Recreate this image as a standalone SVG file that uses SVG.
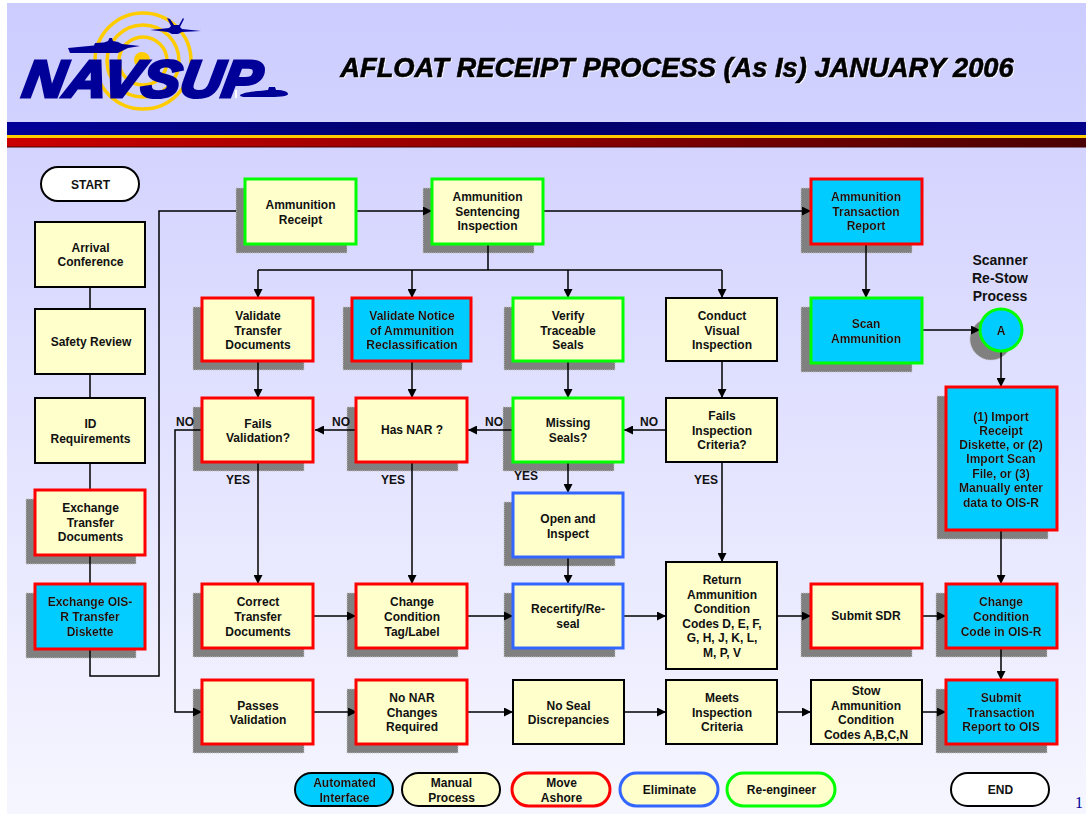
<svg xmlns="http://www.w3.org/2000/svg" width="1086" height="814" viewBox="0 0 1086 814">
<style>
text{font-family:"Liberation Sans",Arial,sans-serif;font-weight:bold;font-size:12px;fill:#111;text-anchor:middle}
.sh{fill:#808080;stroke:#c4c4c4;stroke-width:1;stroke-dasharray:1 1}
.y{fill:#ffffcc}.b{fill:#00ccff}
.b~text{filter:drop-shadow(.7px .7px 0 rgba(255,255,255,.75))}
.k{stroke:#000;stroke-width:2}.r{stroke:#ff0000;stroke-width:3}.g{stroke:#00ff00;stroke-width:3}.u{stroke:#3366ff;stroke-width:3}
.c path{fill:none;stroke:#000;stroke-width:1.5}
.a{marker-end:url(#ah)}
.big{font-size:14px}
</style>
<defs>
<linearGradient id="bg" x1="0" y1="0" x2="0" y2="1"><stop offset="0" stop-color="#ccccff"/><stop offset="1" stop-color="#f6f6ff"/></linearGradient>
<linearGradient id="bl" x1="0" y1="0" x2="1" y2="0"><stop offset="0" stop-color="#000099"/><stop offset="0.45" stop-color="#000066"/><stop offset="1" stop-color="#000088"/></linearGradient>
<linearGradient id="rd" x1="0" y1="0" x2="1" y2="0"><stop offset="0" stop-color="#cc0000"/><stop offset="1" stop-color="#4a0000"/></linearGradient>
<marker id="ah" viewBox="0 0 10 10" refX="10" refY="5" markerUnits="userSpaceOnUse" markerWidth="9" markerHeight="9" orient="auto"><path d="M0 0L10 5L0 10Z" fill="#000"/></marker>
</defs>
<rect width="1086" height="814" fill="#fff"/>
<rect x="7" y="3" width="1079" height="811" fill="url(#bg)"/>
<g id="banner">
<rect x="7" y="122" width="1079" height="13" fill="url(#bl)"/>
<rect x="7" y="135" width="1079" height="3" fill="#ffcc00"/>
<rect x="7" y="138" width="1079" height="9" fill="url(#rd)"/>
<path d="M7 147H1086" stroke="#400" stroke-width="1"/>
</g>
<g id="logo">
<g fill="none" stroke="#ffcc00" stroke-width="3.500">
<circle cx="143" cy="61" r="48"/><circle cx="143" cy="61" r="36"/><circle cx="143" cy="61" r="24"/>
</g>
<circle cx="142" cy="60" r="8" fill="#ffcc00"/>
<path d="M68 48L94 45.500L95 43L104 42.500L108 41L109.500 38L112 38L113 41L118 42L122 44L140 46L128 48L118 53H70Z" fill="#000099"/>
<path d="M150 30L169 28L171 26L167 18L170 19L174 25L179 25L183 18L184 19L180 27L182 29L201 31L182 32L178 34L172 34L168 32Z" fill="#000099"/>
<path d="M240 95C245 91 262 91 268 90L269 87L275 87L276 90C284 90 288 92 288 94C288 96 282 97 270 97H245C241 97 240 96 240 95Z" fill="#000099"/>
<path d="M236 90V98" stroke="#fff" stroke-width="2"/>
<text transform="translate(140 97) skewX(-9)" x="0" y="0" textLength="238" lengthAdjust="spacingAndGlyphs" style="font-size:52px;font-style:italic;fill:#000099;stroke:#000099;stroke-width:3.200;stroke-linejoin:miter">NAVSUP</text>
</g>
<text id="title" x="677" y="77" style="font-size:27.300px;font-style:italic;fill:#000;stroke:#000;stroke-width:.6;filter:drop-shadow(1px 1px 0 rgba(255,255,255,.85))">AFLOAT RECEIPT PROCESS (As Is) JANUARY 2006</text>

<g id="shadows">
<rect class="sh" x="26" y="499" width="110" height="65"/>
<rect class="sh" x="26" y="593" width="110" height="65"/>
<rect class="sh" x="236" y="188" width="111" height="65"/>
<rect class="sh" x="423" y="188" width="111" height="65"/>
<rect class="sh" x="801" y="188" width="111" height="65"/>
<rect class="sh" x="193" y="307" width="111" height="63"/>
<rect class="sh" x="343" y="307" width="119" height="63"/>
<rect class="sh" x="504" y="307" width="111" height="63"/>
<rect class="sh" x="801" y="307" width="111" height="65"/>
<rect class="sh" x="193" y="407" width="111" height="64"/>
<rect class="sh" x="347" y="407" width="111" height="64"/>
<rect class="sh" x="503" y="407" width="111" height="64"/>
<rect class="sh" x="504" y="502" width="111" height="64"/>
<rect class="sh" x="193" y="593" width="111" height="64"/>
<rect class="sh" x="347" y="593" width="111" height="64"/>
<rect class="sh" x="504" y="593" width="111" height="64"/>
<rect class="sh" x="801" y="593" width="111" height="64"/>
<rect class="sh" x="937" y="396" width="111" height="143"/>
<rect class="sh" x="936" y="593" width="111" height="64"/>
<rect class="sh" x="193" y="689" width="111" height="64"/>
<rect class="sh" x="347" y="689" width="111" height="64"/>
<rect class="sh" x="936" y="689" width="111" height="64"/>
<circle class="sh" cx="991" cy="339" r="21"/>
</g>

<g id="connectors" class="c">
<path d="M90 287V309M90 374V398M90 463V490M90 555V584"/>
<path d="M90 649V676H159V211H236"/>
<path class="a" d="M356 211H432"/>
<path class="a" d="M543 211H811"/>
<path d="M488 244V270M258 270H722"/>
<path class="a" d="M258 270V298"/>
<path class="a" d="M412 270V298"/>
<path class="a" d="M568 270V298"/>
<path class="a" d="M722 270V298"/>
<path class="a" d="M866 244V298"/>
<path class="a" d="M922 330H980"/>
<path class="a" d="M1001 351V387"/>
<path class="a" d="M258 361V398"/>
<path class="a" d="M412 361V398"/>
<path class="a" d="M568 361V398"/>
<path class="a" d="M722 361V398"/>
<path class="a" d="M666 430H624"/>
<path class="a" d="M513 430H468"/>
<path class="a" d="M356 430H315"/>
<path class="a" d="M202 430H175V712H202"/>
<path class="a" d="M258 462V584"/>
<path class="a" d="M412 462V584"/>
<path class="a" d="M568 462V493"/>
<path class="a" d="M722 462V562"/>
<path class="a" d="M568 557V584"/>
<path class="a" d="M1001 530V584"/>
<path class="a" d="M1001 648V680"/>
<path class="a" d="M313 616H356"/>
<path class="a" d="M467 616H513"/>
<path class="a" d="M623 616H666"/>
<path class="a" d="M777 616H811"/>
<path class="a" d="M922 616H946"/>
<path class="a" d="M313 712H357"/>
<path class="a" d="M467 712H513"/>
<path class="a" d="M624 712H666"/>
<path class="a" d="M777 712H811"/>
<path class="a" d="M922 712H946"/>
</g>

<g id="start"><rect class="k" x="41" y="167" width="98" height="34" rx="17" fill="#fff"/><text x="90.500" y="189">START</text></g>
<g id="arrival"><rect class="y k" x="35" y="222" width="110" height="65"/><text x="90.500" y="252">Arrival</text><text x="90.500" y="266">Conference</text></g>
<g id="safety"><rect class="y k" x="35" y="309" width="110" height="65"/><text x="91" y="346">Safety Review</text></g>
<g id="idreq"><rect class="y k" x="35" y="398" width="110" height="65"/><text x="90.500" y="428">ID</text><text x="90.500" y="443">Requirements</text></g>
<g id="exchange-docs"><rect class="y r" x="35" y="490" width="110" height="65"/><text x="90.500" y="512">Exchange</text><text x="90.500" y="527">Transfer</text><text x="90.500" y="541">Documents</text></g>
<g id="exchange-ois"><rect class="b r" x="35" y="584" width="110" height="65"/><text x="90" y="606">Exchange OIS-</text><text x="90" y="621">R Transfer</text><text x="90" y="636">Diskette</text></g>

<g id="receipt"><rect class="y g" x="245" y="179" width="111" height="65"/><text x="300.500" y="209">Ammunition</text><text x="300.500" y="224">Receipt</text></g>
<g id="sentencing"><rect class="y g" x="432" y="179" width="111" height="65"/><text x="487.500" y="201">Ammunition</text><text x="487.500" y="216">Sentencing</text><text x="487.500" y="230">Inspection</text></g>
<g id="transaction"><rect class="b r" x="811" y="179" width="111" height="65"/><text x="866" y="201">Ammunition</text><text x="866" y="216">Transaction</text><text x="866" y="230">Report</text></g>

<g id="validate-docs"><rect class="y r" x="202" y="298" width="111" height="63"/><text x="258" y="320">Validate</text><text x="258" y="335">Transfer</text><text x="258" y="349">Documents</text></g>
<g id="validate-notice"><rect class="b r" x="352" y="298" width="119" height="63"/><text x="412" y="320">Validate Notice</text><text x="412" y="335">of Ammunition</text><text x="412" y="349">Reclassification</text></g>
<g id="verify"><rect class="y g" x="513" y="298" width="110" height="63"/><text x="568" y="320">Verify</text><text x="568" y="335">Traceable</text><text x="568" y="349">Seals</text></g>
<g id="conduct"><rect class="y k" x="666" y="298" width="111" height="63"/><text x="722" y="320">Conduct</text><text x="722" y="335">Visual</text><text x="722" y="349">Inspection</text></g>
<g id="scan"><rect class="b g" x="811" y="298" width="111" height="65"/><text x="866" y="328">Scan</text><text x="866" y="343">Ammunition</text></g>

<g id="scanner-label"><text class="big" x="1000" y="265" style="font-size:14px">Scanner</text><text x="1000" y="283" style="font-size:14px">Re-Stow</text><text x="1000" y="301" style="font-size:14px">Process</text></g>
<g id="a"><circle class="b g" cx="1001" cy="330" r="21"/><text x="1001" y="335">A</text></g>

<g id="fails-validation"><rect class="y r" x="202" y="398" width="111" height="64"/><text x="258" y="428">Fails</text><text x="258" y="442">Validation?</text></g>
<g id="has-nar"><rect class="y r" x="356" y="398" width="111" height="64"/><text x="412" y="434">Has NAR ?</text></g>
<g id="missing"><rect class="y g" x="513" y="398" width="110" height="64"/><text x="568" y="427">Missing</text><text x="568" y="442">Seals?</text></g>
<g id="fails-inspection"><rect class="y k" x="666" y="398" width="111" height="64"/><text x="722" y="420">Fails</text><text x="722" y="435">Inspection</text><text x="722" y="449">Criteria?</text></g>

<g id="open"><rect class="y u" x="513" y="493" width="110" height="64"/><text x="568" y="523">Open and</text><text x="568" y="538">Inspect</text></g>
<g id="import"><rect class="b r" x="946" y="387" width="111" height="143"/><text x="1001" y="421">(1) Import</text><text x="1001" y="435">Receipt</text><text x="1001" y="449">Diskette, or (2)</text><text x="1001" y="463">Import Scan</text><text x="1001" y="478">File, or (3)</text><text x="1001" y="492">Manually enter</text><text x="1001" y="507">data to OIS-R</text></g>

<g id="correct"><rect class="y r" x="202" y="584" width="111" height="64"/><text x="258" y="606">Correct</text><text x="258" y="621">Transfer</text><text x="258" y="636">Documents</text></g>
<g id="change-tag"><rect class="y r" x="356" y="584" width="111" height="64"/><text x="412" y="606">Change</text><text x="412" y="621">Condition</text><text x="412" y="636">Tag/Label</text></g>
<g id="recertify"><rect class="y u" x="513" y="584" width="110" height="64"/><text x="568" y="613">Recertify/Re-</text><text x="568" y="628">seal</text></g>
<g id="return"><rect class="y k" x="666" y="562" width="111" height="107"/><text x="722" y="584">Return</text><text x="722" y="599">Ammunition</text><text x="722" y="613">Condition</text><text x="722" y="628">Codes D, E, F,</text><text x="722" y="642">G, H, J, K, L,</text><text x="722" y="657">M, P, V</text></g>
<g id="sdr"><rect class="y r" x="811" y="584" width="111" height="64"/><text x="866" y="620">Submit SDR</text></g>
<g id="change-code"><rect class="b r" x="946" y="584" width="111" height="64"/><text x="1001" y="606">Change</text><text x="1001" y="621">Condition</text><text x="1001" y="636">Code in OIS-R</text></g>

<g id="passes"><rect class="y r" x="202" y="680" width="111" height="64"/><text x="258" y="710">Passes</text><text x="258" y="724">Validation</text></g>
<g id="no-nar"><rect class="y r" x="356" y="680" width="111" height="64"/><text x="412" y="702">No NAR</text><text x="412" y="717">Changes</text><text x="412" y="731">Required</text></g>
<g id="no-seal"><rect class="y k" x="513" y="680" width="111" height="64"/><text x="568.500" y="710">No Seal</text><text x="568.500" y="724">Discrepancies</text></g>
<g id="meets"><rect class="y k" x="666" y="680" width="111" height="64"/><text x="722" y="702">Meets</text><text x="722" y="717">Inspection</text><text x="722" y="731">Criteria</text></g>
<g id="stow"><rect class="y k" x="811" y="680" width="111" height="64"/><text x="866" y="695">Stow</text><text x="866" y="710">Ammunition</text><text x="866" y="724">Condition</text><text x="866" y="739">Codes A,B,C,N</text></g>
<g id="submit"><rect class="b r" x="946" y="680" width="111" height="64"/><text x="1001" y="702">Submit</text><text x="1001" y="717">Transaction</text><text x="1001" y="731">Report to OIS</text></g>

<g id="edge-labels">
<text x="185" y="426">NO</text><text x="341" y="426">NO</text><text x="494" y="426">NO</text><text x="649" y="426">NO</text>
<text x="238" y="484">YES</text><text x="393" y="484">YES</text><text x="526" y="480">YES</text><text x="706" y="484">YES</text>
</g>

<g id="legend-auto"><rect class="b k" x="295" y="773" width="98" height="33" rx="16.500"/><text x="344.500" y="787">Automated</text><text x="344.500" y="802">Interface</text></g>
<g id="legend-manual"><rect class="y k" x="402" y="773" width="98" height="33" rx="16.500"/><text x="451.500" y="787">Manual</text><text x="451.500" y="802">Process</text></g>
<g id="legend-move"><rect class="y r" x="512" y="773" width="98" height="33" rx="16.500"/><text x="561.500" y="787">Move</text><text x="561.500" y="802">Ashore</text></g>
<g id="legend-eliminate"><rect class="y u" x="620" y="773" width="98" height="33" rx="16.500"/><text x="669.500" y="794">Eliminate</text></g>
<g id="legend-reengineer"><rect class="y g" x="727" y="773" width="108" height="33" rx="16.500"/><text x="781.500" y="794">Re-engineer</text></g>
<g id="end"><rect class="k" x="951" y="773" width="98" height="33" rx="16.500" fill="#fff"/><text x="1000.500" y="794">END</text></g>
<text id="page" x="1079" y="808" style="font-family:'Liberation Serif',serif;font-weight:normal;font-size:16px;fill:#000099">1</text>
</svg>
